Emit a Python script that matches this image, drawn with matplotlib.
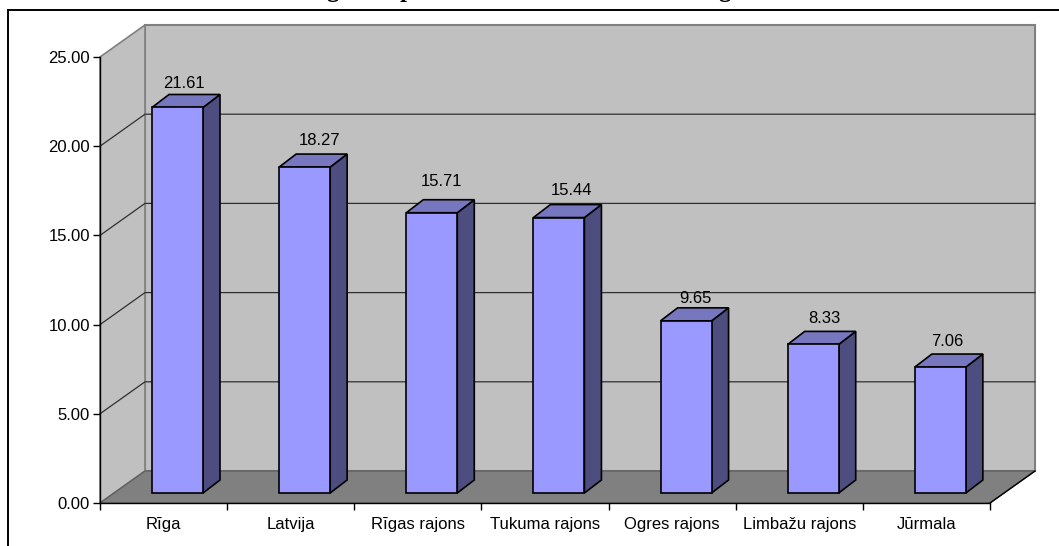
import matplotlib
matplotlib.use("Agg")
import matplotlib.pyplot as plt
from matplotlib.patches import Polygon
from matplotlib.lines import Line2D

categories = ["Rīga", "Latvija", "Rīgas rajons", "Tukuma rajons", "Ogres rajons", "Limbažu rajons", "Jūrmala"]
values = [21.61, 18.27, 15.71, 15.44, 9.65, 8.33, 7.06]
y_ticks = [0, 5, 10, 15, 20, 25]

# hand placed labels in the original, offset in px from front top left corner of bar
label_dx = [32, 40, 35, 38, 35, 37, 32]
label_dy = [24, 27, 31, 27, 22, 26, 26]

PX = 0.72  # points per pixel at dpi 100
WALL_DX = 45 / (890 / 7)
WALL_DY = 32 / (446 / 25)
BAR_LEFT = 52 / (890 / 7)
BAR_W = 51 / (890 / 7)
BAR_BASE = 10 / (446 / 25)
BAR_DX = 17 / (890 / 7)
BAR_DY = 13 / (446 / 25)

plt.rcParams['font.family'] = ['Liberation Sans', 'DejaVu Sans']
plt.rcParams['font.size'] = 12

fig = plt.figure(figsize=(10.59, 5.46), dpi=100)
ax = fig.add_axes([100 / 1059, 43 / 546, 890 / 1059, 446 / 546])
ax.set_xlim(0, len(categories))
ax.set_ylim(0, 25)
ax.patch.set_visible(False)


def poly(points, face, edge, lw=1.0, z=1):
    ax.add_patch(Polygon(points, closed=True, facecolor=face, edgecolor=edge,
                         linewidth=lw, clip_on=False, zorder=z, joinstyle='miter'))


n = len(categories)
top = y_ticks[-1]
# back wall, side wall, floor
poly([(WALL_DX, WALL_DY), (n + WALL_DX, WALL_DY), (n + WALL_DX, top + WALL_DY), (WALL_DX, top + WALL_DY)],
     '#C0C0C0', '#808080', 1.5)
poly([(0, 0), (WALL_DX, WALL_DY), (WALL_DX, top + WALL_DY), (0, top)], '#C0C0C0', '#808080', 1.2)
poly([(0, 0), (n, 0), (n + WALL_DX, WALL_DY), (WALL_DX, WALL_DY)], '#808080', '#606060', 1.0)
ax.add_line(Line2D([n, n + WALL_DX], [0, WALL_DY], color='black', lw=1.0, clip_on=False, zorder=2))

# gridlines, running up the side wall and along the back
for t in y_ticks[1:-1]:
    ax.plot([0, WALL_DX, n + WALL_DX], [t, t + WALL_DY, t + WALL_DY], color='#303030', lw=0.9,
            clip_on=False, zorder=2)

# bars
for i, v in enumerate(values):
    x0 = i + BAR_LEFT
    x1 = x0 + BAR_W
    y0 = BAR_BASE
    y1 = BAR_BASE + v
    poly([(x1, y0), (x1 + BAR_DX, y0 + BAR_DY), (x1 + BAR_DX, y1 + BAR_DY), (x1, y1)], '#4D4D80', 'black', 1.2, 3)
    poly([(x0, y1), (x1, y1), (x1 + BAR_DX, y1 + BAR_DY), (x0 + BAR_DX, y1 + BAR_DY)], '#7777BF', 'black', 1.2, 3)
    poly([(x0, y0), (x1, y0), (x1, y1), (x0, y1)], '#9999FF', 'black', 1.2, 3)
    ax.annotate("%.2f" % v, xy=(x0, y1), xytext=(label_dx[i] * PX, label_dy[i] * PX),
                textcoords='offset points', ha='center', va='center', color='black',
                annotation_clip=False, zorder=4)

for s in ['top', 'right']:
    ax.spines[s].set_visible(False)
ax.spines['left'].set_zorder(5)
ax.spines['bottom'].set_zorder(5)
ax.spines['left'].set_linewidth(1.0)
ax.spines['bottom'].set_linewidth(1.0)

ax.set_yticks(y_ticks)
ax.set_yticklabels(["%.2f" % t for t in y_ticks])
ax.set_xticks(range(n + 1))
ax.set_xticklabels([])
ax.set_xticks([i + 0.5 for i in range(n)], minor=True)
ax.set_xticklabels(categories, minor=True)
ax.tick_params(axis='y', length=7 * PX, width=1.0, pad=3 * PX)
ax.tick_params(axis='x', which='major', length=7 * PX, width=1.0)
ax.tick_params(axis='x', which='minor', length=0, pad=14 * PX)

# document frame around the chart, runs off the image at right and bottom
fig.add_artist(Line2D([8 / 1059, 1], [536 / 546, 536 / 546], color='black', lw=1.4))
fig.add_artist(Line2D([8 / 1059, 8 / 1059], [0, 536 / 546], color='black', lw=1.4))

# heading is cut by the top of the image, only these descenders are left
for ch, px in [('g', 333), ('p', 407), ('g', 725)]:
    fig.text(px / 1059, 1 + 2.5 / 546, ch, family=['Liberation Serif'], fontweight='bold',
             fontsize=18, ha='center', va='baseline', color='black')

fig.savefig("out.png", dpi=100)
